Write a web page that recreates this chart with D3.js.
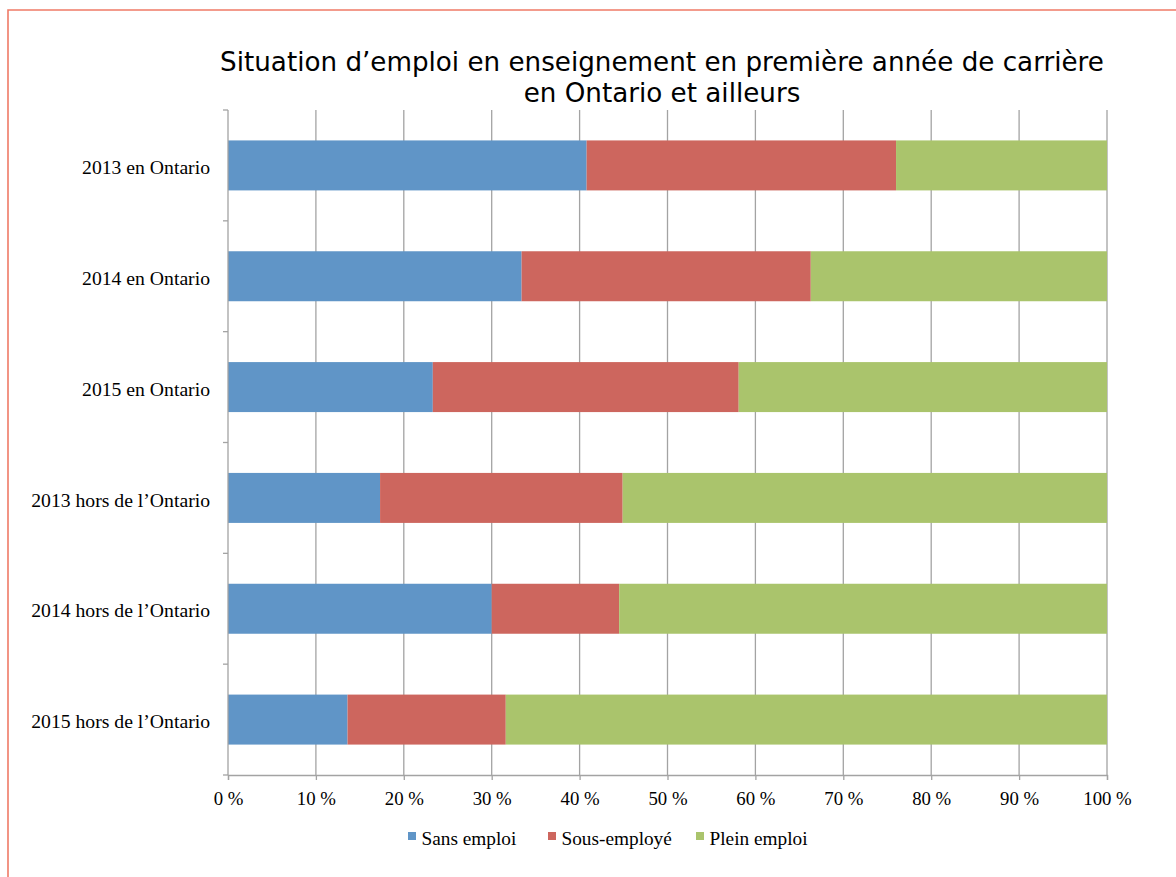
<!DOCTYPE html>
<html>
<head>
<meta charset="utf-8">
<script src="https://cdn.jsdelivr.net/npm/d3@7"></script>
<style>
  html, body { margin: 0; padding: 0; background: #fff; }
  svg { display: block; }
</style>
</head>
<body>
<script>
const categories = ["2013 en Ontario", "2014 en Ontario", "2015 en Ontario",
  "2013 hors de l\u2019Ontario", "2014 hors de l\u2019Ontario", "2015 hors de l\u2019Ontario"];
const seriesNames = ["Sans emploi", "Sous-employé", "Plein emploi"];
const sansEmploi = [40.8, 33.4, 23.3, 17.3, 30.0, 13.6];
const sousEmploye = [35.2, 32.9, 34.8, 27.6, 14.5, 18.0];
const pleinEmploi = [24.0, 33.7, 41.9, 55.1, 55.5, 68.4];
const xTicks = [0, 10, 20, 30, 40, 50, 60, 70, 80, 90, 100];
const titleLines = ["Situation d\u2019emploi en enseignement en première année de carrière", "en Ontario et ailleurs"];
const colors = ["#6095C7", "#CD665E", "#AAC46C"];

const W = 1176, H = 877;
const svg = d3.select("body").append("svg").attr("width", W).attr("height", H);

// frame border
svg.append("path").attr("d", `M8,${H} V10 H${W}`).attr("fill", "none")
  .attr("stroke", "#EF7B67").attr("stroke-width", 1.6);

const plot = { left: 228, right: 1107, top: 110, bottom: 775 };
const x = d3.scaleLinear().domain([0, 100]).range([plot.left, plot.right]);
const y = d3.scaleBand().domain(categories).range([plot.top, plot.bottom])
  .paddingInner(0.549).paddingOuter(0.2745);

// title
const title = svg.append("text").attr("text-anchor", "middle")
  .attr("font-family", "'DejaVu Sans', Verdana, sans-serif").attr("font-size", 26.2).attr("fill", "#000");
title.selectAll("tspan").data(titleLines).join("tspan")
  .attr("x", 662).attr("y", (d, i) => 71 + i * 30.5).text(d => d);

// grid lines
svg.append("g").selectAll("line").data(xTicks.slice(1)).join("line")
  .attr("x1", d => x(d)).attr("x2", d => x(d))
  .attr("y1", plot.top).attr("y2", plot.bottom)
  .attr("stroke", "#A3A3A3").attr("stroke-width", 1.3);

// bars
const stackData = categories.map((c, i) => ({ cat: c, s0: sansEmploi[i], s1: sousEmploye[i], s2: pleinEmploi[i] }));
const stack = d3.stack().keys(["s0", "s1", "s2"])(stackData);
svg.append("g").selectAll("g").data(stack).join("g").attr("fill", (d, i) => colors[i])
  .selectAll("rect").data(d => d).join("rect")
  .attr("x", d => x(d[0])).attr("width", d => x(Math.min(100, d[1])) - x(d[0]))
  .attr("y", d => y(d.data.cat)).attr("height", y.bandwidth());

// bottom axis
const xAxis = d3.axisBottom(x).tickValues(xTicks).tickSize(5).tickFormat(d => d + "\u00a0%");
const gx = svg.append("g").attr("transform", `translate(0,${plot.bottom})`).call(xAxis);
gx.select(".domain").attr("stroke", "#A3A3A3").attr("stroke-width", 1.3);
gx.selectAll(".tick line").attr("stroke", "#A3A3A3").attr("stroke-width", 1.3);
gx.selectAll(".tick text").attr("font-family", "'Liberation Serif', 'Times New Roman', serif")
  .attr("font-size", 18.8).attr("fill", "#000").attr("dy", 0).attr("y", 30);

// left axis
const gy = svg.append("g").attr("transform", `translate(${plot.left},0)`);
gy.append("line").attr("x1", 0).attr("x2", 0).attr("y1", plot.top).attr("y2", plot.bottom)
  .attr("stroke", "#A3A3A3").attr("stroke-width", 1.3);
const bounds = d3.range(categories.length + 1).map(i => plot.top + i * y.step());
gy.selectAll("line.tk").data(bounds).join("line").attr("class", "tk")
  .attr("x1", -5).attr("x2", 0).attr("y1", d => d).attr("y2", d => d)
  .attr("stroke", "#A3A3A3").attr("stroke-width", 1.3);
gy.selectAll("text").data(categories).join("text")
  .attr("x", -18).attr("y", d => y(d) + y.bandwidth() / 2 + 8.7)
  .attr("text-anchor", "end")
  .attr("font-family", "'Liberation Serif', 'Times New Roman', serif")
  .attr("font-size", 19.7).attr("fill", "#000").text(d => d);

// legend
const legendX = [408, 548, 696];
const lg = svg.append("g").selectAll("g").data(seriesNames).join("g")
  .attr("transform", (d, i) => `translate(${legendX[i]},832)`);
lg.append("rect").attr("width", 8).attr("height", 8).attr("fill", (d, i) => colors[i]);
lg.append("text").attr("x", 13.5).attr("y", 13)
  .attr("font-family", "'Liberation Serif', 'Times New Roman', serif")
  .attr("font-size", 19.3).attr("fill", "#000").text(d => d);
</script>
</body>
</html>
